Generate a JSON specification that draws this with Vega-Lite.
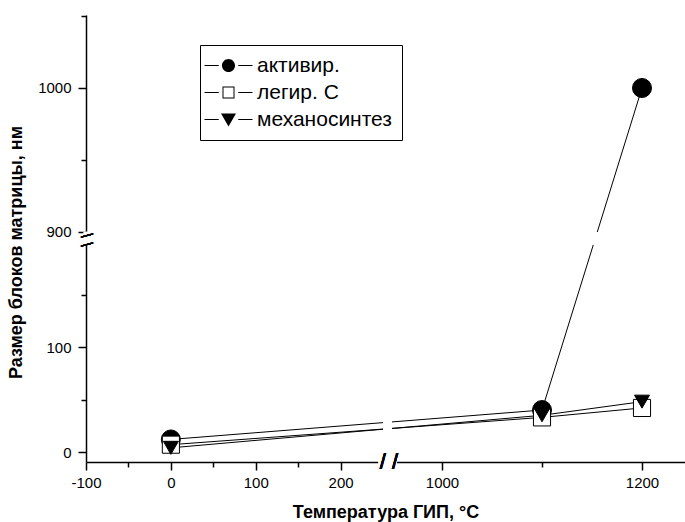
{
  "$schema": "https://vega.github.io/schema/vega-lite/v6.json",
  "width": 599,
  "height": 447,
  "autosize": "none",
  "padding": {"left": 86, "top": 15, "right": 0, "bottom": 60},
  "background": "white",
  "config": {
    "view": {"stroke": null},
    "font": "Liberation Sans",
    "axis": {
      "grid": false,
      "domainColor": "black",
      "domainWidth": 1.5,
      "tickColor": "black",
      "tickWidth": 1.5,
      "labelFont": "Liberation Sans",
      "labelFontSize": 15,
      "labelColor": "black",
      "titleFont": "Liberation Sans",
      "titleFontSize": 18,
      "titleFontWeight": "bold",
      "titleColor": "black",
      "labelFlush": false,
      "labelOverlap": false
    }
  },
  "data": {
    "values": [
      {"series": "активир.", "temp": 0, "size": 12},
      {"series": "активир.", "temp": 1100, "size": 40},
      {"series": "активир.", "temp": 1200, "size": 1000},
      {"series": "легир. C", "temp": 0, "size": 7},
      {"series": "легир. C", "temp": 1100, "size": 33},
      {"series": "легир. C", "temp": 1200, "size": 42},
      {"series": "механосинтез", "temp": 0, "size": 4},
      {"series": "механосинтез", "temp": 1100, "size": 35},
      {"series": "механосинтез", "temp": 1200, "size": 48}
    ]
  },
  "encoding": {
    "x": {
      "field": "temp",
      "type": "quantitative",
      "scale": {"domain": [-100, 257, 947, 1243], "range": [0, 303, 303, 599], "zero": false, "nice": false},
      "axis": {
        "values": [-100, -50, 0, 50, 100, 150, 200, 1000, 1100, 1200],
        "labelExpr": "indexof([-100, 0, 100, 200, 1000, 1200], datum.value) >= 0 ? toString(datum.value) : ''",
        "tickSize": {"condition": {"test": "indexof([-50, 50, 150, 1100], datum.value) >= 0", "value": 5}, "value": 8},
        "labelPadding": 5,
        "title": "Температура ГИП, °C",
        "titleY": 50,
        "titleBaseline": "middle"
      }
    },
    "y": {
      "field": "size",
      "type": "quantitative",
      "scale": {"domain": [-9.5, 202, 894.4, 1050.7], "range": [447, 225, 225, 0], "zero": false, "nice": false},
      "axis": {
        "values": [0, 50, 100, 150, 900, 950, 1000, 1050],
        "labelExpr": "indexof([0, 100, 900, 1000], datum.value) >= 0 ? toString(datum.value) : ''",
        "tickSize": {"condition": {"test": "indexof([50, 150, 950, 1050], datum.value) >= 0", "value": 5}, "value": 8},
        "labelPadding": 7,
        "title": "Размер блоков матрицы, нм",
        "titleX": -70,
        "titleY": 237,
        "titleBaseline": "middle"
      }
    }
  },
  "layer": [
    {
      "mark": {"type": "line", "color": "black", "strokeWidth": 1},
      "encoding": {"detail": {"field": "series", "type": "nominal"}}
    },
    {
      "mark": {"type": "rect", "color": "white"},
      "encoding": {
        "x": {"datum": 250}, "x2": {"datum": 950},
        "y": {"datum": 0}, "y2": {"datum": 80}
      }
    },
    {
      "mark": {"type": "rect", "color": "white"},
      "encoding": {
        "x": {"datum": 1130}, "x2": {"datum": 1175},
        "y": {"datum": 198}, "y2": {"datum": 900}
      }
    },
    {
      "mark": {"type": "point", "filled": true, "opacity": 1, "stroke": "black", "strokeWidth": 1},
      "encoding": {
        "shape": {"field": "series", "type": "nominal", "scale": {"domain": ["активир.", "легир. C", "механосинтез"], "range": ["circle", "square", "triangle-down"]}, "legend": null},
        "fill": {"field": "series", "type": "nominal", "scale": {"domain": ["активир.", "легир. C", "механосинтез"], "range": ["black", "white", "black"]}, "legend": null},
        "size": {"field": "series", "type": "nominal", "scale": {"domain": ["активир.", "легир. C", "механосинтез"], "range": [361, 225, 289]}, "legend": null}
      }
    },
    {
      "mark": {"type": "point", "filled": true, "opacity": 0, "fill": "black", "strokeWidth": 0},
      "encoding": {
        "shape": {
          "field": "series", "type": "nominal",
          "scale": {"domain": ["активир.", "легир. C", "механосинтез"], "range": [
            "M-3.2,-0.067H-1.3V0.067H-3.2ZM1.3,-0.067H3.2V0.067H1.3ZM-0.87,0A0.87,0.87,0,1,1,0.87,0A0.87,0.87,0,1,1,-0.87,0Z",
            "M-3.2,-0.067H-1.3V0.067H-3.2ZM1.3,-0.067H3.2V0.067H1.3ZM-0.8,-0.8H0.8V0.8H-0.8ZM-0.667,-0.667V0.667H0.667V-0.667Z",
            "M-3.2,-0.067H-1.3V0.067H-3.2ZM1.3,-0.067H3.2V0.067H1.3ZM-1,-0.8H1L0,0.93Z"
          ]},
          "legend": {
            "orient": "none", "legendX": 114, "legendY": 30, "title": null,
            "strokeColor": "black", "fillColor": "white", "padding": 10,
            "symbolSize": 225, "symbolOffset": 8, "labelOffset": 18,
            "labelFont": "Liberation Sans", "labelFontSize": 21, "labelColor": "black", "labelLimit": 0,
            "rowPadding": 5, "symbolFillColor": "black", "symbolStrokeWidth": 0, "symbolOpacity": 1,
            "encode": {
              "symbols": {"update": {"fill": {"value": "black"}, "opacity": {"value": 1}, "fillOpacity": {"value": 1}}}
            }
          }
        }
      }
    },
    {
      "mark": {"type": "rect", "color": "white"},
      "encoding": {
        "x": {"datum": 245}, "x2": {"datum": 955},
        "y": {"datum": -11.5}, "y2": {"datum": -7.5}
      }
    },
    {
      "mark": {"type": "text", "text": "/ /", "fontSize": 22, "font": "Liberation Sans", "color": "black", "align": "center", "baseline": "middle"},
      "encoding": {"x": {"datum": 600}, "y": {"datum": -9.5}}
    },
    {
      "mark": {"type": "rect", "color": "white"},
      "encoding": {
        "x": {"datum": -102.5}, "x2": {"datum": -97.5},
        "y": {"datum": 198}, "y2": {"datum": 900}
      }
    },
    {
      "mark": {"type": "text", "text": "\\ \\", "fontSize": 16, "font": "Liberation Sans", "color": "black", "align": "center", "baseline": "middle", "angle": 90},
      "encoding": {"x": {"datum": -100}, "y": {"datum": 500}}
    }
  ],
  "resolve": {"scale": {"shape": "independent", "fill": "independent", "size": "independent"}}
}
